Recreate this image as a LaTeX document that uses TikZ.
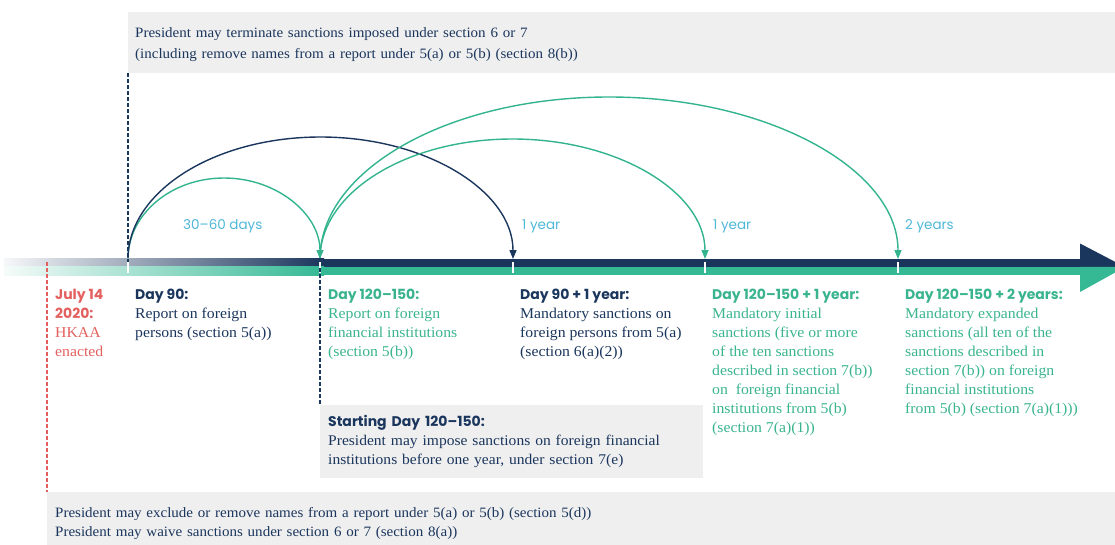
\documentclass[tikz,border=0pt]{standalone}
\usepackage{fontspec}
\setmainfont{Liberation Serif}[FakeStretch=1.05]
\newfontfamily\headfont{Poppins}
\usetikzlibrary{arrows.meta}

\definecolor{navy}{HTML}{1B365D}
\definecolor{barGreen}{HTML}{34B994}
\definecolor{arcGreen}{HTML}{33B48F}
\definecolor{txtGreen}{HTML}{3AB48E}
\definecolor{spanBlue}{HTML}{4FB7D8}
\definecolor{actRed}{HTML}{E3605E}
\definecolor{boxGray}{HTML}{EFEFEF}

\newcommand\bodyfont{\fontsize{15}{19}\selectfont}
\newcommand\heading[1]{{\headfont\bfseries\fontsize{14}{19}\selectfont #1}}

\begin{document}
\begin{tikzpicture}[x=1pt,y=-1pt,
  panel/.style={fill=boxGray, anchor=north west, align=left, inner xsep=7pt,
    inner ysep=0pt, text=navy},
  entry/.style={anchor=north west, align=left, inner sep=0pt, font=\bodyfont},
  span/.style={anchor=base west, inner sep=0pt, text=spanBlue,
    font=\headfont\fontsize{13.5}{16}\selectfont},
  arcline/.style={line width=1.4pt},
  guide/.style={dash pattern=on 3.5pt off 2.5pt, line width=1.1pt},
  tick/.style={draw=white, line width=1.2pt}]
\useasboundingbox (0,0) rectangle (1115,544);

% grey panels
\node[panel, minimum height=61pt, text width=973pt, font=\fontsize{14.3}{21}\selectfont]
  (terminate) at (128,12)
  {\rule{0pt}{14pt}President may terminate sanctions imposed under section 6 or 7\\
   (including remove names from a report under 5(a) or 5(b) (section 8(b))};
\node[panel, minimum height=73pt, text width=367pt, inner xsep=8pt,
  font=\fontsize{14.8}{19}\selectfont] (early) at (320,405)
  {\heading{Starting Day 120–150:}\\
   President may impose sanctions on foreign financial\\
   institutions before one year, under section 7(e)};
\node[panel, minimum height=63pt, text width=1052pt, inner xsep=8pt,
  font=\fontsize{14.3}{19}\selectfont] (waive) at (47,492)
  {President may exclude or remove names from a report under 5(a) or 5(b) (section 5(d))\\
   President may waive sanctions under section 6 or 7 (section 8(a))};

% points on the timeline
\coordinate (enact) at (47,262);
\coordinate (d90)   at (128,259);
\coordinate (d90in) at (128,262);
\coordinate (d120)  at (320,259);
\coordinate (d120in) at (320,268);
\coordinate (d90y1) at (513,259);
\coordinate (d120y1) at (705,259);
\coordinate (d120y2) at (898,259);
\coordinate (pkA) at (224,178);
\coordinate (pkB) at (320.5,137);
\coordinate (pkC) at (512.5,139);
\coordinate (pkD) at (609,97);

% interval arcs
\draw[arcline, draw=arcGreen, arrows={-Triangle[length=9pt,width=7pt,fill=arcGreen]}]
  (d90) .. controls +(0,-44.7) and +(-53,0) .. (pkA)
        .. controls +(53,0) and +(0,-44.7) .. (d120);
\draw[arcline, draw=navy, arrows={-Triangle[length=9pt,width=7pt,fill=navy]}]
  (d90) .. controls +(0,-67.4) and +(-106.3,0) .. (pkB)
        .. controls +(106.3,0) and +(0,-67.4) .. (d90y1);
\draw[arcline, draw=arcGreen, arrows={-Triangle[length=9pt,width=7pt,fill=arcGreen]}]
  (d120) .. controls +(0,-66.3) and +(-106.3,0) .. (pkC)
         .. controls +(106.3,0) and +(0,-66.3) .. (d120y1);
\draw[arcline, draw=arcGreen, arrows={-Triangle[length=9pt,width=7pt,fill=arcGreen]}]
  (d120) .. controls +(0,-89.5) and +(-159.6,0) .. (pkD)
         .. controls +(159.6,0) and +(0,-89.5) .. (d120y2);

% interval labels
\node[span] (lblA) at (183,229) {30–60 days};
\node[span] (lblB) at (522,229) {1 year};
\node[span] (lblC) at (713,229) {1 year};
\node[span] (lblD) at (905,229) {2 years};

% timeline bar with split arrowhead, fading in from the left
\shade[left color=navy!4, middle color=navy!50, right color=navy] (4,258.5) rectangle (324,266.6);
\fill[navy] (323.5,258.5) rectangle (1081,266.6);
\shade[left color=barGreen!5, middle color=barGreen!60, right color=barGreen] (4,266.5) rectangle (324,275);
\fill[barGreen] (323.5,266.5) rectangle (1081,275);
\fill[navy] (1080,243.5) -- (1125,267) -- (1080,267) -- cycle;
\fill[barGreen] (1080,266.8) -- (1125,267) -- (1080,292) -- cycle;

% tick marks
\foreach \p in {d90,d120,d90y1,d120y1,d120y2}
  \draw[tick] (\p) ++(0,3) -- ++(0,11);

% guide lines
\draw[guide, draw=navy] (terminate.south west) -- (d90in);
\draw[guide, draw=actRed] (enact) -- (waive.north west);
\draw[guide, draw=navy] (d120in) -- (early.north west);

% milestone texts
\node[entry, text=actRed] (act) at (55,288.5)
  {\heading{July 14}\\\heading{2020:}\\HKAA\\enacted};
\node[entry, text=navy] (rep90) at (135,288.5)
  {\heading{Day 90:}\\Report on foreign\\persons (section 5(a))};
\node[entry, text=txtGreen] (rep120) at (328,288.5)
  {\heading{Day 120–150:}\\Report on foreign\\financial institutions\\(section 5(b))};
\node[entry, text=navy] (sanc90) at (520,288.5)
  {\heading{Day 90 + 1 year:}\\Mandatory sanctions on\\foreign persons from 5(a)\\(section 6(a)(2))};
\node[entry, text=txtGreen] (sanc120a) at (712,288.5)
  {\heading{Day 120–150 + 1 year:}\\Mandatory initial\\sanctions (five or more\\of the ten sanctions\\described in section 7(b))\\on\ \ foreign financial\\institutions from 5(b)\\(section 7(a)(1))};
\node[entry, text=txtGreen] (sanc120b) at (905,288.5)
  {\heading{Day 120–150 + 2 years:}\\Mandatory expanded\\sanctions (all ten of the\\sanctions described in\\section 7(b)) on foreign\\financial institutions\\from 5(b) (section 7(a)(1)))};
\end{tikzpicture}
\end{document}
